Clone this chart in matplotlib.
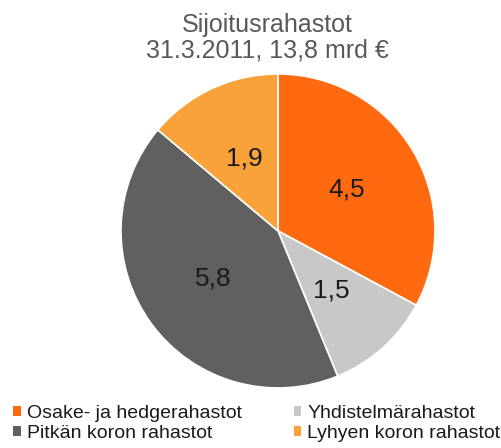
import matplotlib
matplotlib.use('Agg')
import matplotlib.pyplot as plt
from matplotlib.patches import Patch

plt.rcParams['font.family'] = ['Liberation Sans', 'DejaVu Sans']

labels = ['Osake- ja hedgerahastot', 'Yhdistelmärahastot',
          'Pitkän koron rahastot', 'Lyhyen koron rahastot']
values = [4.5, 1.5, 5.8, 1.9]
colors = ['#FF6A10', '#C8C8C8', '#606060', '#F9A23A']
TITLE = 'Sijoitusrahastot\n31.3.2011, 13,8 mrd €'

total = sum(values)

fig = plt.figure(figsize=(5.02, 4.48), dpi=100)
ax = fig.add_axes([0.241, 0.134, 0.6255, 0.701])
wedges, _, autotexts = ax.pie(
    values, colors=colors, startangle=90, counterclock=False,
    autopct=lambda p: f'{p * total / 100:.1f}'.replace('.', ','),
    pctdistance=0.51,
    wedgeprops=dict(edgecolor='white', linewidth=1.2),
    textprops=dict(fontsize=19, color='#1a1a1a'))
ax.set_xlim(-1, 1)
ax.set_ylim(-1, 1)
ax.set_aspect('equal')

fig.text(0.533, 0.972, TITLE, ha='center', va='top', fontsize=18,
         color='#595959', linespacing=1.1)

order = [0, 2, 1, 3]
handles = [Patch(facecolor=colors[i], edgecolor='none') for i in order]
fig.legend(handles, [labels[i] for i in order], ncol=2,
           loc='lower left', bbox_to_anchor=(-0.008, -0.026),
           frameon=False, fontsize=14, handlelength=0.4, handleheight=0.4,
           handletextpad=0.3, columnspacing=2.65, labelspacing=0.15,
           labelcolor='#1a1a1a')

fig.savefig('out.png', dpi=100)
